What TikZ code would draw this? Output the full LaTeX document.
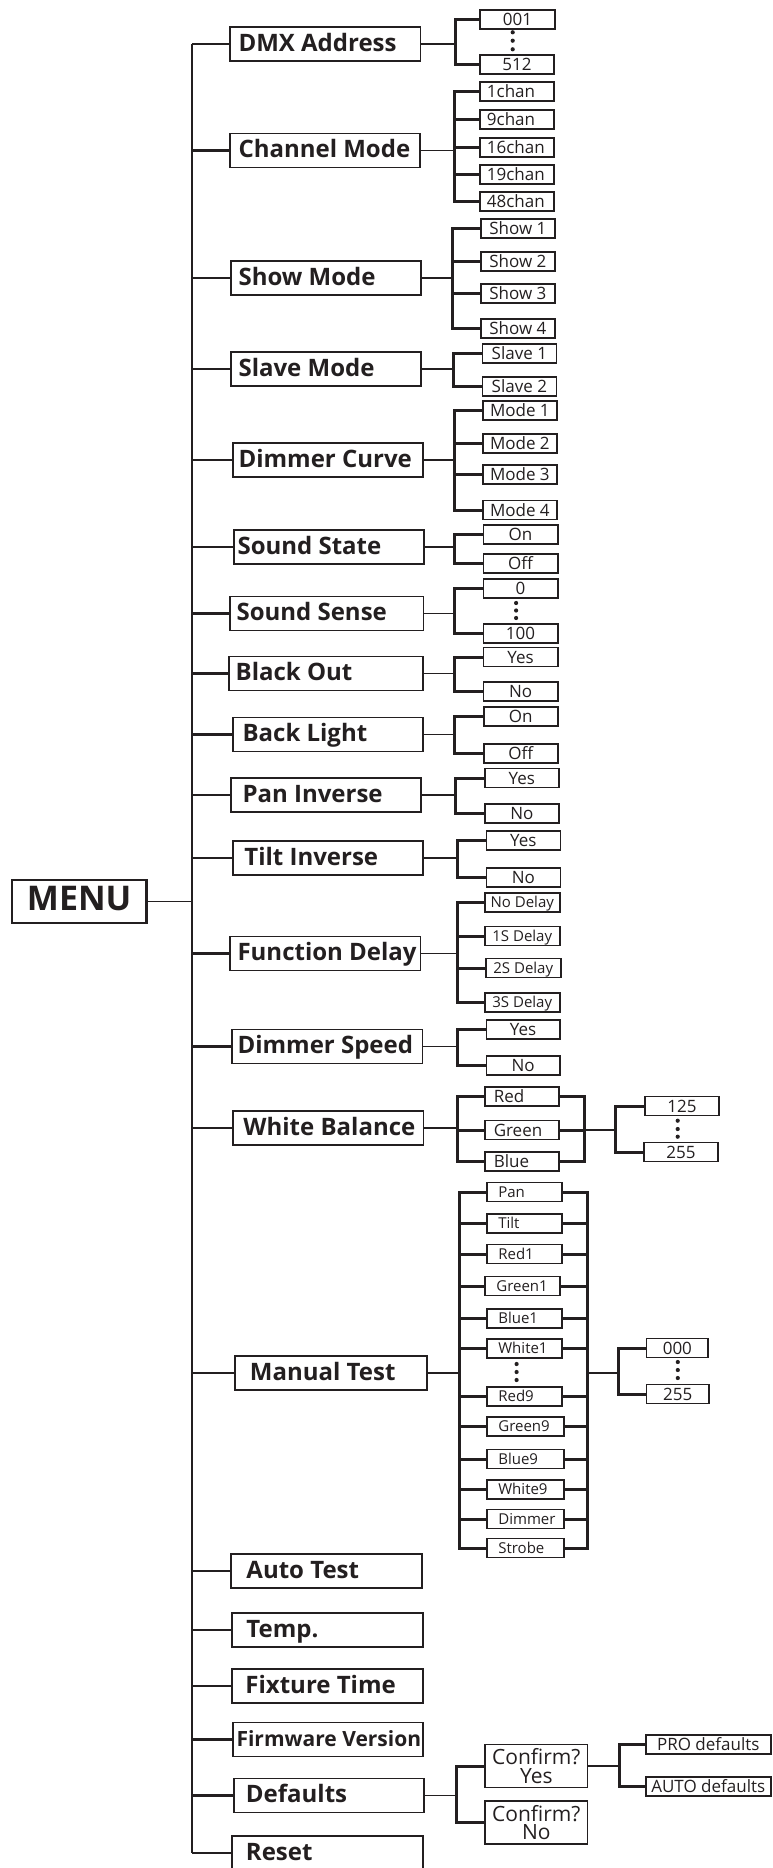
\documentclass[tikz,border=0pt]{standalone}
\usepackage{fontspec}
\setmainfont{Open Sans}
\definecolor{ink}{RGB}{35,31,32}
\newcommand\bxc[6]{%
  \pgfmathsetmacro\bxw{#4-#3}%
  \node[#1,anchor=west,minimum width=\bxw pt] (#2) at (#3,#5) {#6};}
\newcommand\bxl[7]{%
  \pgfmathsetmacro\bxw{#4-#3}%
  \pgfmathsetmacro\bxt{#4-#3-2*#6}%
  \node[#1,anchor=west,minimum width=\bxw pt,inner xsep=#6pt] (#2) at (#3,#5) {\makebox[\bxt pt][l]{#7}};}
\newcommand\grpt[4]{%
  \draw[link] (#1.east) -- (#1.east -| #2);
  \draw[sstub] (#3.west) -- (#3.west -| #2) -- (#4.west -| #2) -- (#4.west);}
\newcommand\grp[5]{%
  \grpt{#1}{#2}{#3}{#4}
  \foreach \m in {#5} {\draw[sstub] (\m.west -| #2) -- (\m.west);}}
\tikzset{
  mbox/.style={draw=ink, line width=1.9pt, inner ysep=0pt, minimum height=34pt,
    font=\bfseries\fontsize{24}{28}\selectfont, text height=17.1pt, text depth=2.5pt, text=ink},
  menubox/.style={mbox, line width=2.2pt, font=\bfseries\fontsize{34}{38}\selectfont, text height=24.3pt,
    text depth=7pt, minimum height=43pt, inner xsep=0pt},
  fwbox/.style={mbox, font=\bfseries\fontsize{21}{24}\selectfont, text height=15pt, text depth=2pt},
  sbox/.style={draw=ink, line width=1.5pt, inner sep=0pt, minimum height=19pt,
    font=\fontsize{17}{20}\selectfont, text height=12.1pt, text depth=0pt, text=ink},
  fdbox/.style={sbox, font=\fontsize{15}{18}\selectfont, text height=10.7pt},
  mtbox/.style={sbox, font=\fontsize{15}{17}\selectfont, text height=10.7pt},
  cbox/.style={draw=ink, line width=1.6pt, inner sep=0pt, align=center,
    font=\fontsize{21}{18.5}\selectfont, minimum height=43pt, text=ink},
  trunk/.style={draw=ink, line width=2.2pt},
  mstub/.style={draw=ink, line width=2.8pt},
  link/.style={draw=ink, line width=1.9pt},
  sstub/.style={draw=ink, line width=3pt},
  dot/.style={circle, fill=ink, inner sep=0pt, minimum size=4.2pt}
}
\begin{document}
\begin{tikzpicture}[x=1pt,y=-1pt]
\useasboundingbox (0,0) rectangle (773,1868);
% ---------- root and main items
\bxc{menubox}{menu}{10.8}{145.4}{901.5}{MENU}
\bxl{mbox}{dmx}{229.2}{419.5}{44}{8.4}{DMX Address}
\bxl{mbox}{chm}{228.7}{419.0}{150.5}{8.9}{Channel Mode}
\bxl{mbox}{shm}{229.7}{420.0}{278}{7.9}{Show Mode}
\bxl{mbox}{slm}{229.7}{420.0}{369}{7.9}{Slave Mode}
\bxl{mbox}{dmc}{231.7}{422.0}{460}{5.9}{Dimmer Curve}
\bxl{mbox}{sst}{232.7}{423.0}{547}{3.9}{Sound State}
\bxl{mbox}{sse}{228.7}{422.5}{613.5}{6.9}{Sound Sense}
\bxl{mbox}{blo}{227.8}{422.0}{673.5}{6.9}{Black Out}
\bxl{mbox}{bkl}{231.7}{422.0}{734.5}{9.9}{Back Light}
\bxl{mbox}{pan}{229.7}{420.0}{795}{11.9}{Pan Inverse}
\bxl{mbox}{tlt}{231.7}{422.0}{858}{11.8}{Tilt Inverse}
\bxl{mbox}{fnd}{228.7}{419.5}{953.5}{7.9}{Function Delay}
\bxl{mbox}{dsp}{230.7}{421.5}{1046.5}{5.9}{Dimmer Speed}
\bxl{mbox}{whb}{231.7}{422.5}{1128}{10.8}{White Balance}
\bxl{mbox}{mnt}{233.7}{426.0}{1373}{15.3}{Manual Test}
\bxl{mbox}{aut}{230.2}{421.0}{1571}{15.3}{Auto Test}
\bxl{mbox}{tmp}{230.7}{422.0}{1630}{14.8}{Temp.}
\bxl{mbox}{fxt}{230.7}{422.0}{1686}{13.8}{Fixture Time}
\bxl{fwbox}{fwv}{231.7}{422.0}{1739.5}{3.9}{Firmware Version}
\bxl{mbox}{dft}{232.7}{423.0}{1795.5}{12.3}{Defaults}
\bxl{mbox}{rst}{230.7}{422.0}{1853}{14.3}{Reset}
% ---------- DMX address
\bxc{sbox}{dA}{479.2}{554.1}{19.5}{001}
\bxc{sbox}{dB}{479.2}{553.1}{64.5}{512}
\node[dot] (dd1) at (512.7,32.3) {};
\node[dot] (dd2) at (512.7,40.7) {};
\node[dot] (dd3) at (512.7,49.3) {};
% ---------- channel mode
\bxl{sbox}{cA}{479.2}{553.1}{91.5}{7}{1chan}
\bxl{sbox}{cB}{479.2}{553.1}{119.5}{7}{9chan}
\bxl{sbox}{cC}{479.2}{553.1}{147.5}{7}{16chan}
\bxl{sbox}{cD}{479.2}{553.1}{174.5}{7}{19chan}
\bxl{sbox}{cE}{479.2}{553.1}{201.5}{7}{48chan}
% ---------- show mode
\bxc{sbox}{sA}{480.2}{554.1}{228.5}{Show 1}
\bxc{sbox}{sB}{480.2}{554.1}{261.5}{Show 2}
\bxc{sbox}{sC}{480.2}{554.1}{293.5}{Show 3}
\bxc{sbox}{sD}{480.2}{554.1}{328.5}{Show 4}
% ---------- slave mode
\bxc{sbox}{lA}{481.6}{555.6}{353.5}{Slave 1}
\bxc{sbox}{lB}{481.6}{555.6}{386.5}{Slave 2}
% ---------- dimmer curve
\bxc{sbox}{mA}{482.1}{556.1}{410.5}{Mode 1}
\bxc{sbox}{mB}{482.1}{556.1}{443.5}{Mode 2}
\bxc{sbox}{mC}{482.1}{556.1}{474.5}{Mode 3}
\bxc{sbox}{mD}{482.1}{556.1}{510}{Mode 4}
% ---------- sound state
\bxc{sbox}{ssA}{482.6}{557}{534.5}{On}
\bxc{sbox}{ssB}{482.6}{557}{563.5}{Off}
% ---------- sound sense
\bxc{sbox}{seA}{482.6}{557}{588.5}{0}
\bxc{sbox}{seB}{482.6}{557}{633.5}{100}
\node[dot] (sed1) at (516.1,603) {};
\node[dot] (sed2) at (516.1,610.5) {};
\node[dot] (sed3) at (516.1,618) {};
% ---------- black out
\bxc{sbox}{boA}{482.6}{557}{657}{Yes}
\bxc{sbox}{boB}{482.6}{557}{691.5}{No}
% ---------- back light
\bxc{sbox}{blA}{483.1}{557}{716.5}{On}
\bxc{sbox}{blB}{483.1}{557}{753.5}{Off}
% ---------- pan inverse
\bxc{sbox}{piA}{484.1}{558}{778}{Yes}
\bxc{sbox}{piB}{484.1}{558}{813.5}{No}
% ---------- tilt inverse
\bxc{sbox}{tiA}{485.6}{559.5}{840.5}{Yes}
\bxc{sbox}{tiB}{485.6}{559.5}{877.5}{No}
% ---------- function delay
\bxc{fdbox}{fdA}{484}{559}{902.5}{No Delay}
\bxc{fdbox}{fdB}{484}{559}{936}{1S Delay}
\bxc{fdbox}{fdC}{485}{560}{968}{2S Delay}
\bxc{fdbox}{fdD}{484}{559}{1002.5}{3S Delay}
% ---------- dimmer speed
\bxc{sbox}{dsA}{485.6}{559}{1029.5}{Yes}
\bxc{sbox}{dsB}{485.6}{559}{1065.5}{No}
% ---------- white balance
\bxl{sbox}{wR}{484}{558}{1096.5}{9}{Red}
\bxl{sbox}{wG}{484}{558}{1130}{9}{Green}
\bxl{sbox}{wB}{484}{558}{1161.5}{9}{Blue}
\bxc{sbox}{wV}{644}{718.3}{1106}{125}
\bxc{sbox}{wW}{643.3}{717.3}{1152}{255}
\node[dot] (wd1) at (677.7,1120.7) {};
\node[dot] (wd2) at (677.7,1129) {};
\node[dot] (wd3) at (677.7,1136.7) {};
% ---------- manual test
\bxl{mtbox}{tA}{486}{561}{1192}{11.6}{Pan}
\bxl{mtbox}{tB}{486}{561}{1223.5}{11.6}{Tilt}
\bxl{mtbox}{tC}{486}{561}{1254}{11.6}{Red1}
\bxl{mtbox}{tD}{484}{559}{1286}{11.6}{Green1}
\bxl{mtbox}{tE}{486}{561}{1318.5}{11.6}{Blue1}
\bxl{mtbox}{tF}{486}{561}{1348.5}{11.6}{White1}
\bxl{mtbox}{tG}{486}{561}{1396.5}{11.6}{Red9}
\bxl{mtbox}{tH}{486}{563}{1426.5}{11.6}{Green9}
\bxl{mtbox}{tI}{486}{563}{1459}{11.6}{Blue9}
\bxl{mtbox}{tJ}{486}{563}{1489.5}{11.6}{White9}
\bxl{mtbox}{tK}{486}{563}{1519}{11.6}{Dimmer}
\bxl{mtbox}{tL}{486}{563}{1548}{11.6}{Strobe}
\node[dot] (td1) at (516.6,1364) {};
\node[dot] (td2) at (516.6,1372) {};
\node[dot] (td3) at (516.6,1380) {};
\bxc{sbox}{tV}{645.8}{707.4}{1348}{000}
\bxc{sbox}{tW}{645.8}{708}{1394}{255}
\node[dot] (tv1) at (677.8,1362) {};
\node[dot] (tv2) at (677.8,1370) {};
\node[dot] (tv3) at (677.8,1378) {};
% ---------- defaults
\bxc{cbox}{cfY}{484.3}{586.7}{1766}{Confirm?\\Yes}
\bxc{cbox}{cfN}{484.3}{586.7}{1822.3}{Confirm?\\No}
\bxc{sbox}{pro}{645}{770}{1744.5}{PRO defaults}
\bxc{sbox}{auto}{645}{770}{1786.7}{AUTO defaults}
% ---------- junction coordinates
\coordinate (T) at (192.3,0);
\coordinate (jdmx) at (455,0);
\coordinate (jchm) at (454.5,0);
\coordinate (jshm) at (452.6,0);
\coordinate (jslm) at (453,0);
\coordinate (jdmc) at (454,0);
\coordinate (jsst) at (454.5,0);
\coordinate (jsse) at (454.5,0);
\coordinate (jblo) at (454,0);
\coordinate (jbkl) at (454.5,0);
\coordinate (jpan) at (455.5,0);
\coordinate (jtlt) at (457.5,0);
\coordinate (jfnd) at (457,0);
\coordinate (jdsp) at (457,0);
\coordinate (jwb) at (457,0);
\coordinate (jwbr) at (584.3,0);
\coordinate (jwbv) at (615.7,0);
\coordinate (jmt) at (459,0);
\coordinate (jmtr) at (587,0);
\coordinate (jmtv) at (618.7,0);
\coordinate (jdf) at (456.7,0);
\coordinate (jdfr) at (619,0);
% ---------- trunk
\draw[trunk] (dmx.west -| T) -- (rst.west -| T);
\draw[link] (menu.east) -- (menu.east -| T);
\foreach \n in {dmx,chm,shm,slm,dmc,sst,sse,blo,bkl,pan,tlt,fnd,dsp,whb,mnt,aut,tmp,fxt,fwv,dft,rst}
  {\draw[mstub] (\n.west -| T) -- (\n.west);}
% ---------- sub groups
\grpt{dmx}{jdmx}{dA}{dB}
\grp{chm}{jchm}{cA}{cE}{cB,cC,cD}
\grp{shm}{jshm}{sA}{sD}{sB,sC}
\grpt{slm}{jslm}{lA}{lB}
\grp{dmc}{jdmc}{mA}{mD}{mB,mC}
\grpt{sst}{jsst}{ssA}{ssB}
\grpt{sse}{jsse}{seA}{seB}
\grpt{blo}{jblo}{boA}{boB}
\grpt{bkl}{jbkl}{blA}{blB}
\grpt{pan}{jpan}{piA}{piB}
\grpt{tlt}{jtlt}{tiA}{tiB}
\grp{fnd}{jfnd}{fdA}{fdD}{fdB,fdC}
\grpt{dsp}{jdsp}{dsA}{dsB}
\grp{whb}{jwb}{wR}{wB}{wG}
\draw[sstub] (wR.east) -- (wR.east -| jwbr) -- (wB.east -| jwbr) -- (wB.east);
\draw[sstub] (wG.east) -- (wG.east -| jwbr);
\draw[link] (wG.east -| jwbr) -- (wG.east -| jwbv);
\draw[sstub] (wV.west) -- (wV.west -| jwbv) -- (wW.west -| jwbv) -- (wW.west);
\grp{mnt}{jmt}{tA}{tL}{tB,tC,tD,tE,tF,tG,tH,tI,tJ,tK}
\draw[sstub] (tA.east) -- (tA.east -| jmtr) -- (tL.east -| jmtr) -- (tL.east);
\foreach \m in {tB,tC,tD,tE,tF,tG,tH,tI,tJ,tK} {\draw[sstub] (\m.east) -- (\m.east -| jmtr);}
\draw[link] (mnt.east -| jmtr) -- (mnt.east -| jmtv);
\draw[sstub] (tV.west) -- (tV.west -| jmtv) -- (tW.west -| jmtv) -- (tW.west);
\grpt{dft}{jdf}{cfY}{cfN}
\draw[link] (cfY.east) -- (cfY.east -| jdfr);
\draw[sstub] (pro.west) -- (pro.west -| jdfr) -- (auto.west -| jdfr) -- (auto.west);
\end{tikzpicture}
\end{document}
